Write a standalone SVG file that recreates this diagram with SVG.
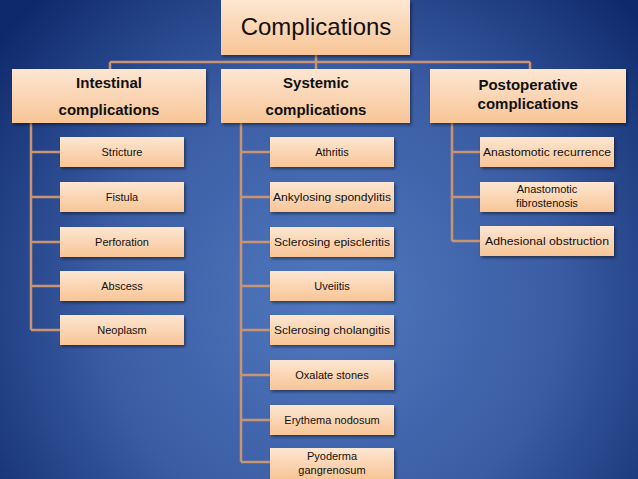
<svg xmlns="http://www.w3.org/2000/svg" width="638" height="479" viewBox="0 0 638 479">
<defs>
<radialGradient id="bg" cx="330" cy="300" r="420" gradientUnits="userSpaceOnUse">
<stop offset="0" stop-color="#5078be"/><stop offset="0.55" stop-color="#3a5ca3"/><stop offset="1" stop-color="#0f2a6c"/>
</radialGradient>
<linearGradient id="bx" x1="0" y1="0" x2="0" y2="1">
<stop offset="0" stop-color="#fde6d2"/><stop offset="1" stop-color="#f8c596"/>
</linearGradient>
<filter id="sh" x="-10%" y="-10%" width="130%" height="140%"><feDropShadow dx="1.5" dy="2" stdDeviation="1.5" flood-color="#000" flood-opacity="0.45"/></filter>
</defs>
<style>
rect.b{fill:url(#bx);filter:url(#sh)}
text{font-family:"Liberation Sans",Arial,sans-serif;fill:#111;text-anchor:middle}
.t{font-size:24px}
.h{font-size:15px;font-weight:bold}
.c{font-size:11px}
#conn path{stroke:#c99571;stroke-width:2.5;fill:none}
</style>
<rect width="638" height="479" fill="url(#bg)"/>
<g id="conn">
<path d="M316 55V62M110 62H530M110 62V69M316 62V69M530 62V69"/>
<path d="M31 123V330M31 152H60M31 197H60M31 242H60M31 286H60M31 330H60"/>
<path d="M241 123V462M241 152H270M241 197H270M241 242H270M241 286H270M241 330H270M241 375H270M241 420H270M241 462H270"/>
<path d="M452 123V241M452 152H480M452 197H480M452 241H480"/>
</g>
<g id="root"><rect class="b" x="221" y="0" width="189" height="55"/><text class="t" x="316" y="35">Complications</text></g>
<g id="intestinal"><rect class="b" x="12" y="69" width="194" height="54"/><text class="h" x="109" y="88">Intestinal</text><text class="h" x="109" y="115">complications</text></g>
<g id="systemic"><rect class="b" x="221" y="69" width="189" height="54"/><text class="h" x="316" y="88">Systemic</text><text class="h" x="316" y="115">complications</text></g>
<g id="postop"><rect class="b" x="430" y="69" width="196" height="54"/><text class="h" x="528" y="90">Postoperative</text><text class="h" x="528" y="109">complications</text></g>
<g id="stricture"><rect class="b" x="60" y="137" width="124" height="30"/><text class="c" x="122" y="156">Stricture</text></g>
<g id="fistula"><rect class="b" x="60" y="182" width="124" height="30"/><text class="c" x="122" y="201">Fistula</text></g>
<g id="perforation"><rect class="b" x="60" y="227" width="124" height="30"/><text class="c" x="122" y="246">Perforation</text></g>
<g id="abscess"><rect class="b" x="60" y="271" width="124" height="30"/><text class="c" x="122" y="290">Abscess</text></g>
<g id="neoplasm"><rect class="b" x="60" y="315" width="124" height="30"/><text class="c" x="122" y="334">Neoplasm</text></g>
<g id="athritis"><rect class="b" x="270" y="137" width="124" height="30"/><text class="c" x="332" y="156">Athritis</text></g>
<g id="ankylosing"><rect class="b" x="270" y="182" width="124" height="30"/><text class="c" x="332" y="201" textLength="118" lengthAdjust="spacingAndGlyphs">Ankylosing spondylitis</text></g>
<g id="episcleritis"><rect class="b" x="270" y="227" width="124" height="30"/><text class="c" x="332" y="246" textLength="116" lengthAdjust="spacingAndGlyphs">Sclerosing episcleritis</text></g>
<g id="uveitis"><rect class="b" x="270" y="271" width="124" height="30"/><text class="c" x="332" y="290">Uveiitis</text></g>
<g id="cholangitis"><rect class="b" x="270" y="315" width="124" height="30"/><text class="c" x="332" y="334" textLength="116" lengthAdjust="spacingAndGlyphs">Sclerosing cholangitis</text></g>
<g id="oxalate"><rect class="b" x="270" y="360" width="124" height="30"/><text class="c" x="332" y="379">Oxalate stones</text></g>
<g id="erythema"><rect class="b" x="270" y="405" width="124" height="30"/><text class="c" x="332" y="424">Erythema nodosum</text></g>
<g id="pyoderma"><rect class="b" x="270" y="448" width="124" height="31"/><text class="c" x="332" y="460">Pyoderma</text><text class="c" x="332" y="474">gangrenosum</text></g>
<g id="recurrence"><rect class="b" x="480" y="137" width="134" height="30"/><text class="c" x="547" y="156" textLength="128" lengthAdjust="spacingAndGlyphs">Anastomotic recurrence</text></g>
<g id="fibrostenosis"><rect class="b" x="480" y="182" width="134" height="30"/><text class="c" x="547" y="193">Anastomotic</text><text class="c" x="547" y="207">fibrostenosis</text></g>
<g id="adhesional"><rect class="b" x="480" y="226" width="134" height="30"/><text class="c" x="547" y="245" textLength="124" lengthAdjust="spacingAndGlyphs">Adhesional obstruction</text></g>
</svg>
